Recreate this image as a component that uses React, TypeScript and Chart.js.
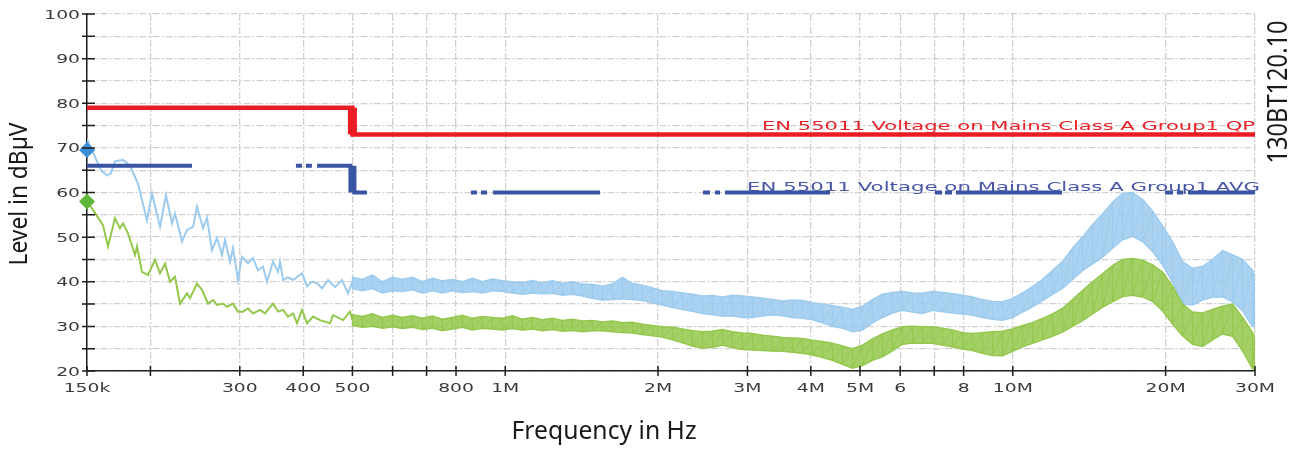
import React, { useEffect, useRef } from 'react';
import { Chart, registerables } from 'chart.js';

Chart.register(...registerables);

// ---------- axis ticks (frequency in kHz, level in dBµV) ----------
const xTickValues = [150, 200, 300, 400, 500, 600, 700, 800, 1000, 2000, 3000, 4000, 5000, 6000, 7000, 8000, 10000, 20000, 30000];
const xTickLabels = ['150k', '', '300', '400', '500', '', '', '800', '1M', '2M', '3M', '4M', '5M', '6', '', '8', '10M', '20M', '30M'];
const yTickValues = [20, 25, 30, 35, 40, 45, 50, 55, 60, 65, 70, 75, 80, 85, 90, 95, 100];
const yTickLabels = ['20', '', '30', '', '40', '', '50', '', '60', '', '70', '', '80', '', '90', '', '100'];

// ---------- limit lines ----------
const qpF = [150, 500, 500, 30000];
const qpV = [79, 79, 73, 73];
const avgSegments: [number, number, number][] = [
  [150, 241.5, 66], [387, 398, 66], [405, 416, 66], [426, 500, 66],
  [500, 534, 60], [856, 880, 60], [896, 921, 60], [946, 1537, 60],
  [2453, 2532, 60], [2590, 2650, 60], [2710, 4364, 60],
  [7026, 7253, 60], [7352, 7589, 60], [7728, 12501, 60],
  [19944, 20680, 60], [21060, 21645, 60], [22140, 30000, 60],
];
const avgStepF = [500, 500];
const avgStepV = [66, 60];
const qpStepF = [500, 500];
const qpStepV = [79, 73];

// ---------- markers ----------
const blueMarker = { f: 150, v: 69.5 };
const greenMarker = { f: 150, v: 58 };

// ---------- measured traces, 150 kHz – 500 kHz (single line) ----------
const blueLineF = [150, 154.8, 159.8, 164.2, 167.2, 170.3, 176.6, 182.3, 189.0, 196.9, 201.4, 208.9, 214.6, 220.6, 223.6, 230.8, 236.1, 242.6, 247.1, 253.9, 258.5, 264.4, 270.5, 276.7, 280.5, 287.0, 290.9, 297.5, 303.0, 311.4, 318.5, 325.8, 333.3, 339.4, 348.8, 356.8, 360.0, 365.0, 373.3, 381.9, 397.8, 406.9, 416.2, 425.8, 435.6, 447.6, 462.0, 476.9, 490.1, 500];
const blueLineV = [72.0, 68.5, 65.0, 63.8, 64.3, 67.0, 67.3, 66.0, 62.0, 53.8, 59.8, 52.3, 59.4, 53.1, 55.3, 49.0, 51.6, 52.3, 56.8, 52.0, 54.3, 47.1, 49.8, 46.0, 49.4, 44.5, 47.6, 40.4, 45.6, 44.2, 45.3, 42.6, 43.4, 40.0, 44.5, 42.2, 44.5, 40.4, 41.0, 40.4, 41.9, 39.0, 40.0, 39.7, 38.5, 40.4, 38.8, 40.4, 37.4, 40.0];
const greenLineF = [150, 154.1, 161.3, 165.0, 170.3, 174.2, 176.6, 180.7, 186.5, 188.2, 192.5, 197.8, 204.2, 208.9, 213.7, 218.6, 223.6, 228.7, 236.1, 239.3, 247.1, 252.7, 259.7, 265.7, 270.5, 278.0, 283.1, 290.9, 297.5, 304.4, 311.4, 318.5, 328.8, 336.3, 348.8, 356.8, 365.0, 373.3, 381.9, 388.9, 397.8, 406.9, 418.1, 431.6, 451.7, 457.8, 479.1, 494.6, 500];
const greenLineV = [58.0, 56.1, 52.7, 47.9, 54.2, 52.0, 53.1, 50.8, 46.0, 47.9, 42.2, 41.5, 44.9, 41.9, 44.1, 40.0, 41.1, 35.1, 37.4, 36.3, 39.6, 38.2, 35.1, 35.9, 34.8, 35.1, 34.4, 35.1, 33.3, 33.3, 34.0, 32.9, 33.7, 32.9, 35.1, 33.3, 33.7, 32.2, 32.9, 30.7, 33.7, 30.7, 32.2, 31.4, 30.7, 32.5, 31.4, 33.3, 31.5];

// ---------- measured traces, 500 kHz – 30 MHz (noise band: upper / lower) ----------
const bandF = [500, 523.2, 547.5, 572.9, 599.5, 627.3, 656.4, 686.9, 718.8, 752.1,
  787, 823.5, 861.8, 901.7, 943.6, 987.4, 1033, 1081, 1131, 1184,
  1239, 1296, 1356, 1419, 1485, 1554, 1626, 1702, 1781, 1863,
  1950, 2040, 2135, 2234, 2338, 2446, 2560, 2679, 2803, 2933,
  3069, 3212, 3361, 3517, 3680, 3851, 4030, 4217, 4412, 4617,
  4831, 5056, 5290, 5536, 5793, 6062, 6343, 6638, 6946, 7268,
  7606, 7959, 8328, 8715, 9119, 9543, 9986, 10449, 10934, 11442,
  11973, 12529, 13110, 13719, 14356, 15022, 15719, 16449, 17212, 18011,
  18847, 19722, 20637, 21595, 22597, 23646, 24743, 25892, 27093, 28351,
  29667, 30000];
const blueHi = [41.0, 40.5, 41.5, 40.0, 41.0, 40.5, 41.0, 40.0, 40.8, 40.2,
  40.5, 40.0, 40.8, 40.0, 40.6, 40.2, 40.0, 39.8, 40.3, 39.8,
  40.2, 39.6, 40.0, 39.5, 39.4, 39.0, 39.5, 41.0, 39.6, 39.2,
  38.6, 38.0, 37.8, 37.5, 37.2, 36.8, 36.9, 36.6, 37.0, 36.8,
  36.6, 36.3, 36.0, 35.7, 35.9, 35.8, 35.3, 35.0, 34.6, 34.3,
  33.8, 34.5, 36.0, 37.2, 37.6, 37.8, 37.5, 37.4, 37.8, 37.6,
  37.3, 37.0, 36.6, 36.0, 35.6, 35.5, 36.2, 37.5, 38.9, 40.5,
  42.5, 44.5, 47.5, 50.0, 52.8, 55.2, 57.8, 59.8, 60.0, 58.5,
  55.8, 52.5, 49.0, 44.5, 43.0, 43.4, 45.0, 47.0, 46.0, 45.0,
  42.6, 41.0];
const blueLo = [38.5, 38.0, 38.5, 37.5, 38.0, 37.8, 38.2, 37.5, 38.0, 37.5,
  38.0, 37.6, 37.8, 37.5, 38.0, 37.8, 37.5, 37.2, 37.5, 37.3,
  37.4, 37.0, 37.2, 36.8, 36.3, 35.9, 36.0, 36.2, 36.0, 35.8,
  35.3, 34.8, 34.2, 33.8, 33.4, 32.9, 32.6, 32.3, 32.4, 32.0,
  32.0, 32.3, 32.6, 32.4, 32.0, 31.8, 31.5, 30.8, 30.0, 29.6,
  28.8, 29.2, 30.8, 32.0, 33.0, 33.6, 33.2, 32.9, 33.6, 33.3,
  33.0, 32.8, 32.5, 32.0, 31.6, 31.4, 32.0, 33.2, 34.4, 35.8,
  37.2, 38.5, 40.5, 42.5, 44.0, 45.5, 47.5, 49.4, 50.2, 49.0,
  46.8, 43.8, 40.0, 35.0, 34.8, 35.9, 36.5, 36.6, 35.5, 33.5,
  30.0, 29.9];
const greenHi = [32.6, 32.2, 32.8, 32.0, 32.5, 32.0, 32.4, 31.8, 32.3, 31.6,
  32.0, 32.5, 31.8, 32.2, 32.0, 31.8, 32.4, 31.6, 32.0, 31.5,
  31.8, 31.3, 31.6, 31.2, 31.3, 31.0, 31.2, 30.8, 30.9, 30.5,
  30.2, 29.9, 29.8, 29.4, 29.0, 28.8, 28.9, 29.3, 28.8, 28.5,
  28.4, 28.0, 27.8, 27.5, 27.4, 27.3, 26.9, 26.6, 26.2, 25.6,
  25.0, 25.8, 27.2, 28.3, 29.2, 29.9, 30.0, 29.9, 29.9, 29.6,
  29.2, 28.6, 28.4, 28.6, 28.8, 28.9, 29.4, 30.2, 30.8, 31.8,
  32.8, 34.0, 36.0, 38.0, 40.0, 41.8, 43.6, 45.0, 45.2, 44.8,
  43.8, 42.2, 39.0, 35.0, 33.2, 33.0, 33.8, 34.5, 35.0, 32.0,
  28.6, 27.5];
const greenLo = [30.2, 29.8, 30.0, 29.6, 29.9, 29.5, 29.8, 29.3, 29.6, 29.0,
  29.4, 29.8, 29.2, 29.6, 29.4, 29.2, 29.5, 29.2, 29.4, 29.0,
  29.3, 28.9, 29.1, 28.8, 29.0, 29.0, 28.8, 28.6, 28.5, 28.2,
  27.9, 27.6, 27.0, 26.3, 25.6, 25.1, 25.3, 25.8, 25.2, 24.8,
  24.7, 24.6, 24.5, 24.4, 24.2, 24.0, 23.6, 23.0, 22.4, 21.5,
  20.6, 21.2, 22.4, 23.2, 24.5, 26.0, 26.3, 26.2, 26.2, 25.8,
  25.4, 24.9, 24.6, 24.0, 23.5, 23.4, 24.4, 25.4, 26.2, 27.0,
  27.8, 28.7, 30.0, 31.3, 32.8, 34.3, 35.5, 36.7, 37.0, 36.6,
  35.6, 33.5, 30.5, 27.9, 26.0, 25.5, 27.0, 28.3, 27.8, 24.5,
  20.5, 20.2];

// ---------- texts ----------
const yTitle = 'Level in dBµV';
const xTitle = 'Frequency in Hz';
const docCode = '130BT120.10';
const qpLabel = 'EN 55011 Voltage on Mains Class A Group1 QP';
const avgLabel = 'EN 55011 Voltage on Mains Class A Group1 AVG';

const W = 1295;
const H = 450;
const BLUE_TRACE = '#9ccbee';
const GREEN_TRACE = '#94c84c';
const BLUE_FILL = 'rgba(156,203,238,0.85)';
const GREEN_FILL = 'rgba(148,200,76,0.85)';
const RED_LIMIT = '#ec1c24';
const BLUE_LIMIT = '#3a54a4';

function drawText(
  ctx: CanvasRenderingContext2D, text: string, x: number, y: number,
  font: string, color: string, align: 'left' | 'center' | 'right',
  width: number, sx: number, rot: number,
) {
  ctx.save();
  ctx.font = font;
  ctx.fillStyle = color;
  ctx.textBaseline = 'alphabetic';
  ctx.textAlign = 'left';
  const w = ctx.measureText(text).width;
  const s = width > 0 ? width / w : sx;
  ctx.translate(x, y);
  if (rot) ctx.rotate(rot);
  ctx.scale(s, 1);
  const ax = align === 'left' ? 0 : align === 'right' ? -w : -w / 2;
  ctx.fillText(text, ax, 0);
  ctx.restore();
}

export default function App() {
  const ref = useRef<HTMLCanvasElement>(null);

  useEffect(() => {
    const canvas = ref.current;
    if (!canvas) return;
    const pts = (fs: number[], vs: number[]) => fs.map((f, i) => ({ x: f, y: vs[i] }));
    const saw = (fs: number[], hi: number[], lo: number[]) =>
      fs.flatMap((f, i) => [{ x: f, y: hi[i] }, { x: f, y: lo[i] }]);
    const avgData: { x: number; y: number | null }[] = [];
    avgSegments.forEach(([a, b, l]) => {
      avgData.push({ x: a, y: l }, { x: b, y: l }, { x: b, y: null });
    });

    const overlay = {
      id: 'overlay',
      afterDraw(chart: any) {
        const ctx: CanvasRenderingContext2D = chart.ctx;
        const xs = chart.scales.x;
        const ys = chart.scales.y;
        const ca = chart.chartArea;
        ctx.save();
        ctx.strokeStyle = '#1e1e1e';
        ctx.lineWidth = 1.5;
        ctx.beginPath();
        xTickValues.forEach((v) => {
          const px = xs.getPixelForValue(v);
          ctx.moveTo(px, ca.bottom - 5);
          ctx.lineTo(px, ca.bottom + 5);
        });
        yTickValues.forEach((v) => {
          const py = ys.getPixelForValue(v);
          ctx.moveTo(ca.left - 5, py);
          ctx.lineTo(ca.left + 8, py);
        });
        ctx.stroke();
        ctx.restore();

        const tickFont = '12.5px "DejaVu Sans"';
        xTickValues.forEach((v, i) => {
          const lab = xTickLabels[i];
          if (lab) drawText(ctx, lab, xs.getPixelForValue(v), ca.bottom + 21, tickFont, '#3a3a3a', 'center', 0, 1.5, 0);
        });
        yTickValues.forEach((v, i) => {
          const lab = yTickLabels[i];
          if (lab) drawText(ctx, lab, ca.left - 7, ys.getPixelForValue(v) + 4.5, tickFont, '#3a3a3a', 'right', 0, 1.5, 0);
        });

        // limit labels
        drawText(ctx, qpLabel, 762, ys.getPixelForValue(73) - 4, '12px "DejaVu Sans"', '#e8232a', 'left', 493, 1, 0);
        drawText(ctx, avgLabel, 747, ys.getPixelForValue(60) - 2, '12px "DejaVu Sans"', '#4757a6', 'left', 513, 1, 0);

        // titles
        drawText(ctx, yTitle, 27, 194, '26px "Noto Sans"', '#1a1a1a', 'center', 143, 1, -Math.PI / 2);
        drawText(ctx, xTitle, 604, 439, '26px "Noto Sans"', '#1a1a1a', 'center', 185, 1, 0);
        drawText(ctx, docCode, 1287, 92, '27px "Noto Sans"', '#1a1a1a', 'center', 143, 1, -Math.PI / 2);
      },
    };

    const gridCfg = { color: '#d0d0d0', lineWidth: 1.3, drawTicks: false };
    const borderCfg = { display: true, color: '#1e1e1e', width: 1.5, dash: [7, 2, 2, 2] };

    const chart = new Chart(canvas, {
      type: 'line',
      data: {
        datasets: [
          { data: pts(qpStepF, qpStepV), borderColor: RED_LIMIT, borderWidth: 9, pointRadius: 0 },
          { data: pts(qpF, qpV), borderColor: RED_LIMIT, borderWidth: 4.5, pointRadius: 0 },
          { data: pts(avgStepF, avgStepV), borderColor: BLUE_LIMIT, borderWidth: 8, pointRadius: 0 },
          { data: avgData, borderColor: BLUE_LIMIT, borderWidth: 4, pointRadius: 0, spanGaps: false },
          { data: [{ x: blueMarker.f, y: blueMarker.v }], showLine: false, pointStyle: 'rectRot', pointRadius: 8, pointBackgroundColor: '#3b8fd5', pointBorderWidth: 0, clip: false } as any,
          { data: [{ x: greenMarker.f, y: greenMarker.v }], showLine: false, pointStyle: 'rectRot', pointRadius: 8, pointBackgroundColor: '#5db83a', pointBorderWidth: 0, clip: false } as any,
          { data: pts(greenLineF, greenLineV), borderColor: GREEN_TRACE, borderWidth: 2, pointRadius: 0 },
          { data: saw(bandF, greenHi, greenLo), borderColor: GREEN_TRACE, borderWidth: 1, pointRadius: 0 },
          { data: pts(bandF, greenHi), borderColor: GREEN_TRACE, borderWidth: 1.5, pointRadius: 0 },
          { data: pts(bandF, greenLo), borderColor: GREEN_TRACE, borderWidth: 1.5, pointRadius: 0, fill: '-1', backgroundColor: GREEN_FILL },
          { data: pts(blueLineF, blueLineV), borderColor: BLUE_TRACE, borderWidth: 2, pointRadius: 0 },
          { data: saw(bandF, blueHi, blueLo), borderColor: BLUE_TRACE, borderWidth: 1, pointRadius: 0 },
          { data: pts(bandF, blueHi), borderColor: BLUE_TRACE, borderWidth: 1.5, pointRadius: 0 },
          { data: pts(bandF, blueLo), borderColor: BLUE_TRACE, borderWidth: 1.5, pointRadius: 0, fill: '-1', backgroundColor: BLUE_FILL },
        ] as any,
      },
      options: {
        responsive: false,
        animation: false,
        devicePixelRatio: 1,
        layout: { padding: { left: 0, right: 40, top: 14, bottom: 0 } },
        plugins: { legend: { display: false }, tooltip: { enabled: false }, title: { display: false } },
        elements: { line: { tension: 0, borderCapStyle: 'butt' } },
        scales: {
          x: {
            type: 'logarithmic',
            min: 150,
            max: 30000,
            afterBuildTicks: (s: any) => { s.ticks = xTickValues.map((v) => ({ value: v })); },
            afterFit: (s: any) => { s.height = 79; },
            ticks: { display: false },
            grid: gridCfg,
            border: borderCfg,
          },
          y: {
            type: 'linear',
            min: 20,
            max: 100,
            afterBuildTicks: (s: any) => { s.ticks = yTickValues.map((v) => ({ value: v })); },
            afterFit: (s: any) => { s.width = 87; },
            ticks: { display: false },
            grid: gridCfg,
            border: borderCfg,
          },
        },
      } as any,
      plugins: [overlay],
    });
    return () => chart.destroy();
  }, []);

  return (
    <div style={{ position: 'absolute', left: 0, top: 0, width: W, height: H, background: '#fff' }}>
      <canvas ref={ref} width={W} height={H} style={{ display: 'block' }} />
    </div>
  );
}
